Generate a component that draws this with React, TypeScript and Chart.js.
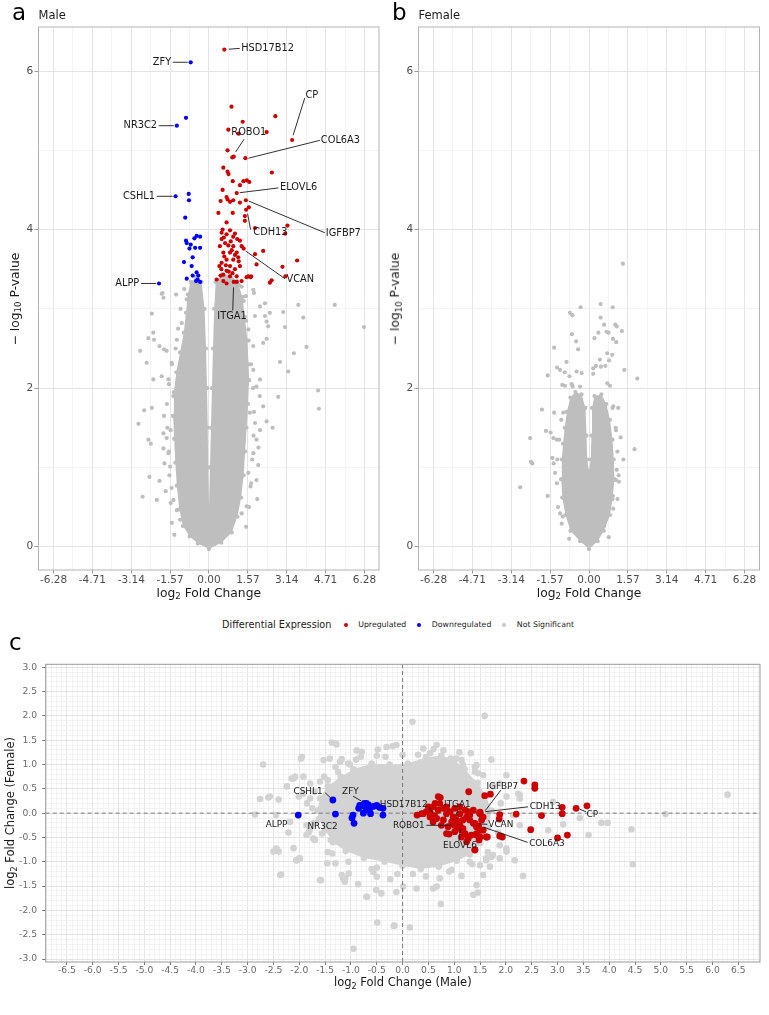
import React, { useEffect, useRef } from "react";
import { Chart, registerables } from "chart.js";

Chart.register(...registerables);

const FONT = '"DejaVu Sans", "Liberation Sans", sans-serif';

const RED = "#cd0000";
const BLUE = "#0000ff";
const GREY = "#bebebe";
const LIGHT_GREY = "#d3d3d3";

type P = [number, number];

// ---------- highlighted genes ----------
const GENES = ["HSD17B12", "ZFY", "NR3C2", "CSHL1", "ALPP", "CP", "ROBO1", "COL6A3", "ELOVL6", "IGFBP7", "CDH13", "VCAN", "ITGA1"];
const GENE_MALE_LFC = [0.62, -0.74, -1.3, -1.35, -2.02, 3.36, 1.0, 1.47, 1.12, 1.49, 1.5, 1.4, 1.0];
const GENE_MALE_P = [6.27, 6.11, 5.31, 4.42, 3.32, 5.13, 4.92, 4.9, 4.46, 4.37, 4.25, 3.76, 3.34];
const GENE_FEMALE_LFC = [-0.05, 0.2, -0.02, 0.27, -0.04, 0.1, -0.25, -0.26, -0.28, 0.0, 0.02, -0.21, -0.1];

// ---------- panel a: male, [log2 FC, -log10 P] ----------
const MALE_UP: P[] = [
  [0.91, 5.55], [1.36, 5.36], [2.68, 5.43], [0.78, 5.26], [1.2, 5.21], [2.33, 5.23], [0.75, 5.0], [0.94, 4.91],
  [0.58, 4.78], [0.75, 4.73], [0.79, 4.7], [2.54, 4.72], [0.96, 4.61], [1.39, 4.61], [1.53, 4.62], [1.63, 4.6],
  [1.25, 4.56], [0.55, 4.5], [0.71, 4.41], [0.75, 4.38], [0.47, 4.36], [0.85, 4.35], [0.98, 4.37], [1.25, 4.34],
  [1.61, 4.28], [0.38, 4.21], [0.96, 4.21], [1.45, 4.17], [0.71, 4.09], [1.45, 4.11], [3.17, 4.05], [1.86, 4.02],
  [3.08, 3.95], [0.51, 3.96], [0.85, 3.99], [0.71, 3.94], [0.98, 3.91], [1.14, 3.88], [1.25, 3.86], [0.51, 3.88],
  [0.65, 3.83], [0.44, 3.79], [0.98, 3.79], [1.32, 3.79], [1.12, 3.71], [0.85, 3.71], [0.58, 3.71], [2.19, 3.73],
  [1.86, 3.69], [1.18, 3.65], [0.98, 3.62], [0.71, 3.62], [0.51, 3.58], [0.42, 3.54], [0.85, 3.54], [1.25, 3.54],
  [1.05, 3.5], [0.71, 3.48], [0.58, 3.43], [0.31, 3.37], [0.85, 3.41], [1.12, 3.41], [1.52, 3.4], [1.68, 3.4],
  [1.92, 3.56], [2.97, 3.53], [3.09, 3.41], [3.56, 3.61], [2.53, 3.36], [2.46, 3.33], [1.12, 3.34], [0.58, 3.35],
  [1.32, 3.35], [0.71, 3.32], [0.6, 3.9], [0.78, 3.8], [0.92, 3.74], [1.05, 3.68], [0.62, 3.66], [0.5, 3.5],
  [0.8, 3.47], [0.95, 3.45], [1.2, 3.6], [0.68, 3.55], [0.47, 3.42], [0.88, 3.85], [1.05, 3.95], [0.55, 4.0],
  [1.59, 3.41], [1.7, 3.41],
];
const MALE_DOWN: P[] = [
  [-0.93, 5.41], [-0.82, 4.45], [-0.81, 4.37], [-0.96, 4.15], [-0.93, 3.86], [-0.59, 3.89], [-0.36, 3.91],
  [-0.74, 3.81], [-0.79, 3.76], [-0.56, 3.77], [-0.66, 3.65], [-1.01, 3.59], [-0.7, 3.54], [-0.5, 3.46],
  [-0.66, 3.42], [-0.43, 3.42], [-0.9, 3.38], [-0.52, 3.35], [-0.36, 3.34], [-0.9, 3.83], [-0.5, 3.92],
  [-0.36, 3.77], [-0.46, 3.37],
];
const MALE_NS: P[] = [
  [-1.91, 3.19], [-1.84, 3.14], [-2.31, 2.94], [-2.25, 2.7], [-2.45, 2.63], [-2.22, 2.61], [-2.78, 2.47],
  [-2.52, 2.32], [-2.0, 2.53], [-1.82, 2.49], [-1.71, 2.47], [-2.25, 2.11], [-1.91, 2.15], [-1.64, 2.11],
  [-2.62, 1.72], [-2.85, 1.55], [-2.31, 1.75], [-1.82, 1.65], [-2.45, 1.35], [-2.35, 1.3], [-1.84, 1.43],
  [-1.71, 1.37], [-2.41, 0.88], [-2.11, 0.59], [-2.0, 0.83], [-2.68, 0.63], [-1.84, 1.24], [-1.64, 1.18],
  [-1.51, 0.74], [-1.57, 1.01], [-1.44, 0.59], [-1.17, 0.34], [-1.3, 0.46], [-1.55, 1.47], [-1.44, 1.9],
  [-1.51, 2.32], [-1.3, 2.61], [-1.1, 2.82], [-0.9, 3.12], [-1.88, 3.2], [-1.33, 3.18],
  [-1.5, 0.3], [-1.55, 0.55], [-1.6, 0.9], [-1.62, 1.2], [-1.68, 1.5], [-1.7, 1.8], [-1.62, 2.05], [-1.5, 2.3],
  [-1.35, 2.5], [-1.25, 2.75], [-1.15, 3.0], [-1.0, 3.25], [-1.4, 0.15], [-1.75, 0.7], [-1.8, 1.05],
  [1.79, 3.24], [2.26, 3.07], [2.06, 3.03], [2.46, 2.95], [2.26, 2.91], [2.33, 2.84], [3.0, 2.96], [3.61, 3.05],
  [5.08, 3.05], [3.81, 2.89], [3.07, 2.77], [6.26, 2.77], [2.33, 2.62], [3.94, 2.52], [3.43, 2.44], [2.87, 2.33],
  [3.2, 2.21], [2.8, 1.89], [4.41, 1.97], [4.44, 1.74], [2.57, 1.5], [2.33, 1.58], [2.06, 1.47], [1.92, 1.35],
  [1.99, 1.03], [1.92, 0.84], [1.68, 0.76], [1.52, 0.51], [2.19, 1.77], [1.92, 2.02], [2.06, 2.11], [1.79, 2.23],
  [1.79, 2.53], [1.59, 2.74], [1.86, 2.91], [2.19, 2.57], [2.39, 2.78], [1.65, 1.69], [1.86, 1.56], [1.79, 1.18],
  [1.59, 0.93], [1.32, 0.42], [1.32, 3.28], [1.49, 3.16], [1.82, 3.2],
  [1.5, 0.25], [1.62, 0.5], [1.7, 0.8], [1.75, 1.1], [1.8, 1.4], [1.82, 1.7], [1.78, 2.0], [1.7, 2.3],
  [1.6, 2.6], [1.5, 2.85], [1.4, 3.1], [1.2, 3.3], [1.95, 0.6], [2.0, 1.25], [2.05, 1.9],
];
// outline of the dense non-significant region (traced from the widest left vertex round to the widest right one)
const MALE_NS_DENSE: P[] = [
  [-1.45, 1.65], [-1.42, 1.95], [-1.32, 2.2], [-1.17, 2.45], [-1.02, 2.7], [-0.93, 2.95], [-0.86, 3.18],
  [-0.74, 3.34], [-0.52, 3.4], [-0.3, 3.34], [-0.18, 3.0], [-0.12, 2.5], [-0.08, 2.0], [-0.05, 1.5], [-0.03, 1.0],
  [0.0, 0.5], [0.04, 1.0], [0.08, 1.5], [0.12, 2.0], [0.16, 2.5], [0.21, 3.0], [0.27, 3.34], [0.55, 3.44],
  [0.85, 3.42], [1.15, 3.35], [1.35, 3.15], [1.45, 2.9], [1.55, 2.6], [1.6, 2.3], [1.62, 2.1], [1.58, 1.8],
  [1.52, 1.5], [1.46, 1.2], [1.4, 0.9], [1.3, 0.62], [1.15, 0.38], [0.92, 0.18], [0.5, 0.05], [0.0, -0.03],
  [-0.45, 0.04], [-0.78, 0.13], [-1.05, 0.26], [-1.2, 0.47], [-1.3, 0.77], [-1.36, 1.06], [-1.41, 1.36],
  [-1.45, 1.65], [1.62, 2.1],
];

// ---------- panel b: female, [log2 FC, -log10 P] ----------
const FEMALE_NS: P[] = [
  [-0.34, 3.02], [0.47, 3.06], [0.96, 3.02], [-0.77, 2.95], [-0.67, 2.92], [0.47, 2.89], [0.61, 2.8], [1.06, 2.8],
  [1.12, 2.78], [1.33, 2.72], [-0.69, 2.68], [-0.52, 2.59], [0.22, 2.63], [0.38, 2.7], [0.71, 2.71], [0.79, 2.7],
  [0.97, 2.62], [1.1, 2.58], [-1.41, 2.51], [-0.44, 2.49], [0.74, 2.44], [0.94, 2.42], [0.44, 2.36], [0.81, 2.35],
  [-0.91, 2.33], [-1.29, 2.26], [-1.17, 2.23], [-0.98, 2.2], [0.17, 2.25], [0.28, 2.28], [0.48, 2.27], [0.66, 2.28],
  [1.43, 2.23], [-1.67, 2.16], [-0.79, 2.15], [-0.5, 2.21], [-0.3, 2.19], [0.17, 2.18], [1.95, 2.12], [-1.08, 2.04],
  [-0.97, 2.03], [-0.7, 2.05], [-0.66, 2.02], [-0.36, 2.02], [0.74, 2.06], [0.85, 2.03], [-1.9, 1.73], [-1.41, 1.69],
  [-1.04, 1.69], [0.98, 1.77], [1.18, 1.75], [-1.74, 1.46], [-1.55, 1.44], [-2.38, 1.37], [-1.44, 1.37], [-1.3, 1.35],
  [1.28, 1.38], [1.09, 1.47], [1.84, 1.23], [1.39, 1.1], [-1.48, 1.12], [-1.43, 1.05], [-2.35, 1.07], [-2.29, 1.05],
  [-1.37, 0.93], [1.12, 0.97], [1.09, 0.84], [1.21, 0.82], [-2.78, 0.75], [-1.67, 0.64], [0.96, 0.64], [0.98, 0.48],
  [-1.17, 0.42], [-1.06, 0.38], [-1.1, 0.29], [0.61, 0.26], [1.37, 3.57],
  [-1.25, 0.5], [-1.3, 0.8], [-1.28, 1.1], [-1.2, 1.35], [-1.12, 1.6], [1.15, 0.6], [1.2, 0.9], [1.15, 1.2],
  [1.08, 1.5], [0.95, 1.75], [-0.8, 0.1], [0.8, 0.12],
];
const FEMALE_NS_DENSE: P[] = [
  [-1.12, 0.85], [-1.1, 1.1], [-1.05, 1.3], [-0.98, 1.5], [-0.9, 1.7], [-0.75, 1.88], [-0.55, 1.95], [-0.3, 1.92],
  [-0.14, 1.75], [-0.1, 1.4], [-0.07, 1.1], [0.0, 0.95], [0.07, 1.1], [0.1, 1.4], [0.12, 1.75], [0.22, 1.9],
  [0.5, 1.92], [0.7, 1.8], [0.85, 1.6], [0.95, 1.35], [1.0, 1.1], [1.03, 0.85], [0.95, 0.6], [0.85, 0.4],
  [0.6, 0.2], [0.35, 0.07], [0.0, -0.03], [-0.36, 0.07], [-0.75, 0.2], [-0.95, 0.4], [-1.08, 0.62], [-1.12, 0.85],
  [1.03, 0.85],
];

// ---------- panel c: [male log2 FC, female log2 FC] ----------
const CMP_UP: P[] = [
  [0.4, -0.01], [0.53, 0.03], [0.59, 0.13], [0.63, 0.2], [0.69, 0.06], [0.79, 0.1], [0.85, -0.01], [0.92, 0.03],
  [0.98, -0.08], [1.04, -0.14], [1.11, -0.18], [1.17, -0.14], [1.24, -0.08], [1.3, -0.04], [1.37, -0.21],
  [1.43, -0.28], [1.5, -0.01], [1.53, -0.14], [0.53, -0.08], [0.66, -0.11], [0.79, -0.14], [0.95, -0.18],
  [1.08, -0.28], [1.14, -0.35], [1.21, -0.42], [1.27, -0.52], [1.33, -0.45], [1.43, -0.42], [1.5, -0.35],
  [0.85, 0.13], [1.01, 0.1], [1.11, -0.01], [1.21, 0.06], [1.3, -0.14], [1.37, 0.06], [0.72, 0.2], [0.5, 0.13],
  [0.59, -0.18], [0.75, -0.25], [0.88, -0.28], [1.01, -0.38], [1.14, -0.49], [1.24, -0.59], [1.5, -0.49],
  [1.56, -0.08], [1.11, 0.13], [1.27, 0.03], [2.35, 0.66], [2.56, 0.58], [2.56, 0.51], [1.28, 0.44], [1.59, 0.36],
  [1.7, 0.39], [0.73, 0.32], [3.09, 0.12], [3.57, 0.15], [3.09, -0.01], [2.69, -0.05], [2.2, -0.02], [1.87, -0.12],
  [2.48, -0.34], [3.0, -0.51], [3.19, -0.45], [1.88, -0.47], [1.93, -0.49], [1.64, -0.49], [1.48, -0.55],
  [1.4, -0.75], [0.9, -0.43], [0.28, -0.04], [0.69, 0.34], [1.88, -0.03], [1.43, -0.45], [1.62, -0.49],
  [1.56, -0.35], [1.17, -0.32], [0.85, -0.42], [1.4, -0.76], [0.37, -0.01], [0.46, 0.03],
];
const CMP_DOWN: P[] = [
  [-0.96, -0.04], [-0.94, -0.21], [-0.98, -0.1], [-0.83, 0.16], [-0.7, 0.2], [-0.63, 0.1], [-0.5, 0.16],
  [-0.38, 0.1], [-0.38, -0.04], [-0.62, -0.01], [-0.76, 0.0], [-0.85, 0.1], [-0.7, 0.07], [-0.73, 0.13],
  [-0.56, 0.14], [-0.66, 0.17], [-0.45, 0.12],
];
const CMP_NS: P[] = [
  [-2.7, 1.0], [-1.95, 1.16], [-1.37, 1.45], [-1.28, 1.41], [-2.24, 0.55], [-2.11, 0.71], [-2.76, 0.29],
  [-2.6, 0.32], [-2.4, 0.28], [-2.86, -0.03], [-2.45, -0.04], [-2.21, -0.4], [-1.82, -0.4], [-2.45, -0.75],
  [-2.4, -0.79], [-2.11, -0.72], [-2.0, -0.93], [-2.06, -0.97], [-2.35, -1.26], [-1.58, -1.38], [-1.18, -1.27],
  [-1.11, -1.34], [-0.86, -1.46], [-0.69, -1.72], [-0.49, -2.25], [-0.16, -2.31], [-0.95, -2.79], [-1.18, 1.11],
  [-1.05, 1.02], [-0.81, 1.16], [-0.48, 1.31], [-0.33, 1.16], [-0.19, 1.38], [-1.52, 0.75], [-1.45, 0.68],
  [-1.92, 0.75], [-1.79, 0.61], [-2.01, 0.34], [-1.92, 0.4], [-1.69, -0.21], [-1.56, -0.42], [-1.36, -0.83],
  [-1.39, -0.55], [-1.46, -1.03], [-1.3, -1.03], [-1.04, -1.24], [-0.24, -1.36], [-0.51, -1.58], [-0.41, -1.65],
  [1.59, 2.0], [0.19, 1.88], [1.32, 1.23], [1.72, 1.1], [0.93, 1.12], [1.14, 1.09], [0.58, 1.02], [0.72, 0.95],
  [1.43, 0.99], [2.01, 0.78], [1.88, 0.61], [2.24, 0.4], [2.27, 0.3], [2.91, 0.23], [3.43, -0.1], [3.6, -0.45],
  [3.85, -0.2], [3.97, -0.2], [4.43, -0.33], [4.46, -1.05], [5.09, -0.02], [6.29, 0.38], [2.82, -0.35],
  [3.11, -0.23], [2.01, -0.79], [2.33, -1.29], [2.17, -0.97], [1.46, -1.63], [0.74, -1.87], [-0.17, -2.32],
  [0.14, -2.35], [0.27, -1.55], [0.66, -1.51], [1.62, -0.97], [1.88, -0.93], [1.14, -1.29], [0.95, -1.17],
  [1.5, -1.07], [1.72, -0.9], [-1.29, 1.43], [-1.97, 1.12], [-1.02, 1.0], [-0.31, 1.36], [-0.12, 1.4],
  [0.79, 1.29], [0.66, 1.4], [1.4, 0.85], [1.46, 0.82], [1.56, 0.78], [2.01, 0.34], [2.27, 0.37], [1.56, -1.27],
  [1.69, -1.1], [1.43, -1.48], [1.37, -1.68], [0.72, -1.34], [0.59, -1.55], [0.01, -1.51], [-0.12, -1.62],
  [-0.7, -1.72], [-2.37, -1.27], [-2.44, -0.73], [-2.5, -0.79], [-2.05, -0.97], [-1.99, -0.93], [-1.6, -1.38],
  [-1.15, -1.34], [-1.12, -1.41], [-0.57, -1.21], [-0.5, -1.31], [-1.86, -0.45], [-1.73, -0.52], [-2.18, -0.18],
  [-1.86, -0.25], [-2.57, 0.34], [-2.15, 0.71], [-2.08, 0.75], [-1.79, 0.3], [-1.7, 0.44], [-1.53, 1.09],
  [-1.41, 1.12], [-0.89, 1.29], [-0.79, 1.26], [-1.21, 1.05], [0.4, 1.33], [0.53, 1.23], [1.04, 1.12],
  [1.17, 0.99], [2.14, -0.04], [2.27, -0.25], [1.88, -0.66], [2.01, -0.73], [1.62, -0.93], [1.75, -0.86],
  [-1.75, 0.1], [-1.72, -0.2], [-1.25, 0.85], [0.3, 1.2], [1.3, -1.0], [0.2, -1.25], [-0.5, -1.12],
  [-1.85, 0.2], [-1.8, -0.35], [-1.6, 0.65], [-1.3, 0.95], [-0.9, 1.1], [-0.5, 1.18], [0.0, 1.2], [0.6, 1.32],
  [1.1, 1.25], [1.4, 0.95], [1.75, 0.55], [1.9, 0.2], [1.85, -0.4], [1.65, -0.8], [1.35, -1.05], [0.9, -1.2],
  [0.45, -1.3], [-0.1, -1.25], [-0.6, -1.15], [-1.05, -1.0], [-1.45, -0.8], [-1.7, -0.55],
];
const CMP_NS_DENSE: P[] = [
  [-1.65, 0.05], [-1.6, 0.3], [-1.45, 0.55], [-1.2, 0.75], [-0.95, 0.9], [-0.6, 1.02], [-0.25, 1.0], [0.1, 1.02],
  [0.45, 1.15], [0.75, 1.18], [1.0, 1.1], [1.2, 0.9], [1.45, 0.62], [1.62, 0.35], [1.72, 0.05], [1.65, -0.3],
  [1.5, -0.62], [1.3, -0.85], [1.05, -0.98], [0.7, -1.1], [0.35, -1.15], [0.0, -1.08], [-0.35, -1.0],
  [-0.75, -0.92], [-1.1, -0.78], [-1.35, -0.6], [-1.5, -0.35], [-1.62, -0.12], [-1.65, 0.05], [1.72, 0.05],
];
const ZERO_V: P[] = [[0, -3.06], [0, 3.06]];
const ZERO_H: P[] = [[-6.91, 0], [6.92, 0]];

// ---------- ticks ----------
const VOLCANO_X_TICKS = [-6.2832, -4.7124, -3.1416, -1.5708, 0, 1.5708, 3.1416, 4.7124, 6.2832];
const VOLCANO_Y_TICKS = [0, 2, 4, 6];
const CMP_X_TICKS = [-6.5, -6, -5.5, -5, -4.5, -4, -3.5, -3, -2.5, -2, -1.5, -1, -0.5, 0, 0.5, 1, 1.5, 2, 2.5, 3, 3.5, 4, 4.5, 5, 5.5, 6, 6.5];
const CMP_Y_TICKS = [-3, -2.5, -2, -1.5, -1, -0.5, 0, 0.5, 1, 1.5, 2, 2.5, 3];

// ---------- gene label placement ----------
const MALE_LABELS = [
  { text: "HSD17B12", x: 1.3, y: 6.28, align: "left", line: [0.8, 6.275, 1.24, 6.285] },
  { text: "ZFY", x: -1.53, y: 6.11, align: "right", line: [-1.46, 6.11, -0.86, 6.11] },
  { text: "NR3C2", x: -2.1, y: 5.31, align: "right", line: [-2.03, 5.31, -1.42, 5.31] },
  { text: "CSHL1", x: -2.18, y: 4.42, align: "right", line: [-2.11, 4.42, -1.47, 4.42] },
  { text: "ALPP", x: -2.82, y: 3.32, align: "right", line: [-2.75, 3.32, -2.14, 3.32] },
  { text: "CP", x: 3.9, y: 5.69, align: "left", line: [3.87, 5.66, 3.4, 5.19] },
  { text: "ROBO1", x: 1.61, y: 5.22, align: "center", line: [1.42, 5.14, 1.08, 4.98] },
  { text: "COL6A3", x: 4.52, y: 5.13, align: "left", line: [4.48, 5.125, 1.59, 4.9] },
  { text: "ELOVL6", x: 2.87, y: 4.53, align: "left", line: [2.8, 4.525, 1.24, 4.465] },
  { text: "IGFBP7", x: 4.72, y: 3.95, align: "left", line: [4.68, 3.96, 1.6, 4.36] },
  { text: "CDH13", x: 1.79, y: 3.96, align: "left", line: [1.68, 4.0, 1.56, 4.2] },
  { text: "VCAN", x: 3.13, y: 3.37, align: "left", line: [3.07, 3.38, 1.48, 3.73] },
  { text: "ITGA1", x: 0.93, y: 2.91, align: "center", line: [0.96, 2.98, 0.99, 3.27] },
];
const CMP_LABELS = [
  { text: "CSHL1", x: -1.83, y: 0.45, align: "center", line: [-1.5, 0.42, -1.4, 0.32] },
  { text: "ZFY", x: -1.01, y: 0.45, align: "center", line: [-0.96, 0.35, -0.8, 0.25] },
  { text: "HSD17B12", x: 0.02, y: 0.18, align: "center", line: [0.51, 0.13, 0.59, 0.0] },
  { text: "ITGA1", x: 1.06, y: 0.18, align: "center", line: [1.07, 0.08, 1.03, -0.06] },
  { text: "IGFBP7", x: 1.93, y: 0.55, align: "center", line: [1.9, 0.47, 1.6, 0.05] },
  { text: "CDH13", x: 2.46, y: 0.13, align: "left", line: [2.43, 0.13, 1.6, 0.03] },
  { text: "VCAN", x: 1.66, y: -0.23, align: "left", line: [1.64, -0.23, 1.48, -0.22] },
  { text: "COL6A3", x: 2.45, y: -0.62, align: "left", line: [2.42, -0.6, 1.57, -0.29] },
  { text: "ROBO1", x: 0.12, y: -0.25, align: "center", line: [0.46, -0.25, 0.94, -0.25] },
  { text: "ELOVL6", x: 1.11, y: -0.66, align: "center", line: [1.09, -0.58, 1.12, -0.34] },
  { text: "ALPP", x: -2.44, y: -0.23, align: "center" },
  { text: "NR3C2", x: -1.55, y: -0.27, align: "center" },
  { text: "CP", x: 3.56, y: -0.04, align: "left", line: [3.43, 0.08, 3.55, 0.03] },
];

// ---------- helpers ----------
const maleGenePts: P[] = GENES.map((_, i) => [GENE_MALE_LFC[i], GENE_MALE_P[i]]);
const cmpGenePts: P[] = GENES.map((_, i) => [GENE_MALE_LFC[i], GENE_FEMALE_LFC[i]]);

const midpoints = (t: number[]) => t.slice(1).map((v, i) => (v + t[i]) / 2);
const steps = (from: number, to: number) => {
  const out: number[] = [];
  for (let i = Math.round(from * 10); i <= Math.round(to * 10); i++) out.push(i / 10);
  return out;
};

function points(data: P[], color: string, radius: number, order: number) {
  return {
    data: data.map(([x, y]) => ({ x, y })),
    pointRadius: radius,
    pointBackgroundColor: color,
    backgroundColor: color,
    pointBorderWidth: 0,
    borderWidth: 0,
    order,
  };
}
function area(outline: P[], color: string, radius: number, order: number) {
  return { ...points(outline, color, radius, order), showLine: true, fill: "shape", borderColor: "rgba(0,0,0,0)" };
}
function dashed(data: P[], order: number) {
  return {
    data: data.map(([x, y]) => ({ x, y })),
    showLine: true,
    pointRadius: 0,
    borderColor: "#7a7a7a",
    borderWidth: 1,
    borderDash: [4, 3],
    fill: false,
    order,
  };
}

function axis(o: any) {
  const isMajor = (v: number) => o.majors.some((m: number) => Math.abs(m - v) < 1e-6);
  return {
    type: "linear",
    min: o.min,
    max: o.max,
    afterBuildTicks: (s: any) => {
      s.ticks = o.grid.map((value: number) => ({ value }));
    },
    afterFit: o.fit,
    ticks: {
      autoSkip: false,
      maxRotation: 0,
      minRotation: 0,
      padding: o.padding,
      color: o.labelColor,
      font: { family: FONT, size: o.fontSize },
      callback: (v: number) => (isMajor(v) ? o.fmt(v) : ""),
    },
    grid: {
      color: (c: any) => (c.tick && isMajor(c.tick.value) ? o.majorColor : o.minorColor),
      lineWidth: (c: any) => (c.tick && isMajor(c.tick.value) ? o.majorWidth : o.minorWidth),
      tickColor: (c: any) => (c.tick && isMajor(c.tick.value) ? o.tickColor : "rgba(0,0,0,0)"),
      tickLength: o.tickLength,
      tickWidth: 1,
      drawTicks: true,
    },
    border: { display: false },
  };
}

function borderPlugin(color: string) {
  return {
    id: "panelBorder",
    afterDatasetsDraw(chart: any) {
      const { ctx, chartArea: a } = chart;
      ctx.save();
      ctx.strokeStyle = color;
      ctx.lineWidth = 1;
      ctx.strokeRect(a.left, a.top, a.right - a.left, a.bottom - a.top);
      ctx.restore();
    },
  };
}

function labelPlugin(items: any[], size: number) {
  return {
    id: "geneLabels",
    afterDatasetsDraw(chart: any) {
      const { ctx } = chart;
      const xs = chart.scales.x;
      const ys = chart.scales.y;
      ctx.save();
      ctx.strokeStyle = "#1a1a1a";
      ctx.fillStyle = "#1a1a1a";
      ctx.lineWidth = 0.9;
      ctx.font = `${size}px ${FONT}`;
      ctx.textBaseline = "middle";
      for (const it of items) {
        if (it.line) {
          const [x1, y1, x2, y2] = it.line;
          ctx.beginPath();
          ctx.moveTo(xs.getPixelForValue(x1), ys.getPixelForValue(y1));
          ctx.lineTo(xs.getPixelForValue(x2), ys.getPixelForValue(y2));
          ctx.stroke();
        }
        ctx.textAlign = it.align;
        ctx.fillText(it.text, xs.getPixelForValue(it.x), ys.getPixelForValue(it.y));
      }
      ctx.restore();
    },
  };
}

function baseOptions(w: number, box: any, scales: any) {
  return {
    responsive: false,
    animation: false,
    devicePixelRatio: 1,
    events: [],
    layout: { padding: { left: 0, top: box.top, right: w - box.right, bottom: 0 } },
    plugins: { legend: { display: false }, tooltip: { enabled: false } },
    scales,
  };
}

function volcanoScales(h: number, box: any, xmin: number, xmax: number) {
  const common = {
    labelColor: "#4d4d4d",
    fontSize: 10.5,
    majorColor: "#e4e4e4",
    minorColor: "#efefef",
    majorWidth: 1,
    minorWidth: 0.7,
    tickColor: "#9a9a9a",
  };
  return {
    x: axis({
      ...common,
      min: xmin,
      max: xmax,
      grid: [...VOLCANO_X_TICKS, ...midpoints(VOLCANO_X_TICKS)].sort((a, b) => a - b),
      majors: VOLCANO_X_TICKS,
      fmt: (v: number) => v.toFixed(2),
      tickLength: 3.5,
      padding: 0.5,
      fit: (s: any) => {
        s.height = h - box.bottom;
      },
    }),
    y: axis({
      ...common,
      min: -0.294,
      max: 6.555,
      grid: [0, 1, 2, 3, 4, 5, 6],
      majors: VOLCANO_Y_TICKS,
      fmt: (v: number) => String(Math.round(v)),
      tickLength: 4,
      padding: 1.2,
      fit: (s: any) => {
        s.width = box.left;
      },
    }),
  };
}

function makeMale(w: number, h: number) {
  const box = { left: 38.5, right: 379, top: 27, bottom: 570 };
  return {
    type: "scatter",
    data: {
      datasets: [
        points([...MALE_UP, ...maleGenePts.filter((p) => p[0] > 0)], RED, 2.1, 0),
        points([...MALE_DOWN, ...maleGenePts.filter((p) => p[0] < 0)], BLUE, 2.1, 0),
        points(MALE_NS, GREY, 2.1, 2),
        area(MALE_NS_DENSE, GREY, 2.1, 3),
      ],
    },
    options: baseOptions(w, box, volcanoScales(h, box, -6.89, 6.87)),
    plugins: [borderPlugin("#b3b3b3"), labelPlugin(MALE_LABELS, 9.8)],
  };
}

function makeFemale(w: number, h: number) {
  const box = { left: 34.5, right: 375.5, top: 27, bottom: 570 };
  return {
    type: "scatter",
    data: {
      datasets: [points(FEMALE_NS, GREY, 2.1, 2), area(FEMALE_NS_DENSE, GREY, 2.1, 3)],
    },
    options: baseOptions(w, box, volcanoScales(h, box, -6.89, 6.89)),
    plugins: [borderPlugin("#b3b3b3")],
  };
}

function makeCmp(w: number, h: number) {
  const box = { left: 45.7, right: 760, top: 24.3, bottom: 322 };
  const common = {
    labelColor: "#6b6b6b",
    fontSize: 9.2,
    majorColor: "#e2e2e2",
    minorColor: "#eeeeee",
    majorWidth: 0.9,
    minorWidth: 0.7,
    tickColor: "#7a7a7a",
  };
  const scales = {
    x: axis({
      ...common,
      min: -6.91,
      max: 6.92,
      grid: steps(-6.9, 6.9),
      majors: CMP_X_TICKS,
      fmt: (v: number) => v.toFixed(1),
      tickLength: 3,
      padding: 0.5,
      fit: (s: any) => {
        s.height = h - box.bottom;
      },
    }),
    y: axis({
      ...common,
      min: -3.06,
      max: 3.06,
      grid: steps(-3, 3),
      majors: CMP_Y_TICKS,
      fmt: (v: number) => v.toFixed(1),
      tickLength: 3.5,
      padding: 5.2,
      fit: (s: any) => {
        s.width = box.left;
      },
    }),
  };
  return {
    type: "scatter",
    data: {
      datasets: [
        points([...CMP_UP, ...cmpGenePts.filter((p) => p[0] > 0)], RED, 3.4, 0),
        points([...CMP_DOWN, ...cmpGenePts.filter((p) => p[0] < 0)], BLUE, 3.4, 0),
        dashed(ZERO_V, 1),
        dashed(ZERO_H, 1),
        points(CMP_NS, LIGHT_GREY, 3.3, 2),
        area(CMP_NS_DENSE, LIGHT_GREY, 3.3, 3),
      ],
    },
    options: baseOptions(w, box, scales),
    plugins: [borderPlugin("#9a9a9a"), labelPlugin(CMP_LABELS, 8.9)],
  };
}

function ChartBox({ left, top, width, height, make }: any) {
  const ref = useRef<HTMLCanvasElement>(null);
  useEffect(() => {
    const chart = new Chart(ref.current as HTMLCanvasElement, make(width, height) as any);
    return () => chart.destroy();
  }, []);
  return (
    <canvas
      ref={ref}
      width={width}
      height={height}
      style={{ position: "absolute", left, top, width, height, display: "block" }}
    />
  );
}

function Text({ x, y, size, children, anchor = "left", rotate = false, color = "#1a1a1a" }: any) {
  const tx = anchor === "center" ? "-50%" : anchor === "right" ? "-100%" : "0";
  return (
    <div
      style={{
        position: "absolute",
        left: x,
        top: y,
        fontSize: size,
        lineHeight: 1,
        whiteSpace: "nowrap",
        color,
        transform: `translate(${tx}, -50%)${rotate ? " rotate(-90deg)" : ""}`,
        transformOrigin: rotate ? "50% 50%" : undefined,
      }}
    >
      {children}
    </div>
  );
}

const Sub = ({ children }: any) => (
  <span style={{ fontSize: "70%", verticalAlign: "-0.3em", lineHeight: 0 }}>{children}</span>
);

function Dot({ x, y, color }: any) {
  return (
    <div
      style={{
        position: "absolute",
        left: x - 2,
        top: y - 2,
        width: 4,
        height: 4,
        borderRadius: "50%",
        background: color,
      }}
    />
  );
}

export default function App() {
  return (
    <div
      style={{
        position: "absolute",
        left: 0,
        top: 0,
        width: 769,
        height: 1010,
        overflow: "hidden",
        background: "#ffffff",
        fontFamily: FONT,
      }}
    >
      <ChartBox left={0} top={0} width={384} height={604} make={makeMale} />
      <ChartBox left={384} top={0} width={385} height={604} make={makeFemale} />
      <ChartBox left={0} top={640} width={769} height={370} make={makeCmp} />

      <Text x={12} y={12} size={23} color="#000">a</Text>
      <Text x={38.5} y={16} size={11.5}>Male</Text>
      <Text x={392} y={12} size={23} color="#000">b</Text>
      <Text x={418.5} y={16} size={11.5}>Female</Text>
      <Text x={9} y={642} size={23} color="#000">c</Text>

      <Text x={208.75} y={593} size={12.3} anchor="center">
        log<Sub>2</Sub> Fold Change
      </Text>
      <Text x={589} y={593} size={12.3} anchor="center">
        log<Sub>2</Sub> Fold Change
      </Text>
      <Text x={15} y={298.5} size={12.3} anchor="center" rotate>
        − log<Sub>10</Sub> P-value
      </Text>
      <Text x={395} y={298.5} size={12.3} anchor="center" rotate>
        − log<Sub>10</Sub> P-value
      </Text>

      <Text x={222} y={625.3} size={9.7}>Differential Expression</Text>
      <Dot x={345.7} y={625.3} color={RED} />
      <Text x={358.2} y={625.3} size={7.8}>Upregulated</Text>
      <Dot x={419.3} y={625.3} color={BLUE} />
      <Text x={431.8} y={625.3} size={7.8}>Downregulated</Text>
      <Dot x={504.3} y={625.3} color="#c8c8c8" />
      <Text x={516.8} y={625.3} size={7.8}>Not Significant</Text>

      <Text x={402.85} y={982.7} size={11.5} anchor="center">
        log<Sub>2</Sub> Fold Change (Male)
      </Text>
      <Text x={11} y={813} size={11.5} anchor="center" rotate>
        log<Sub>2</Sub> Fold Change (Female)
      </Text>
    </div>
  );
}
